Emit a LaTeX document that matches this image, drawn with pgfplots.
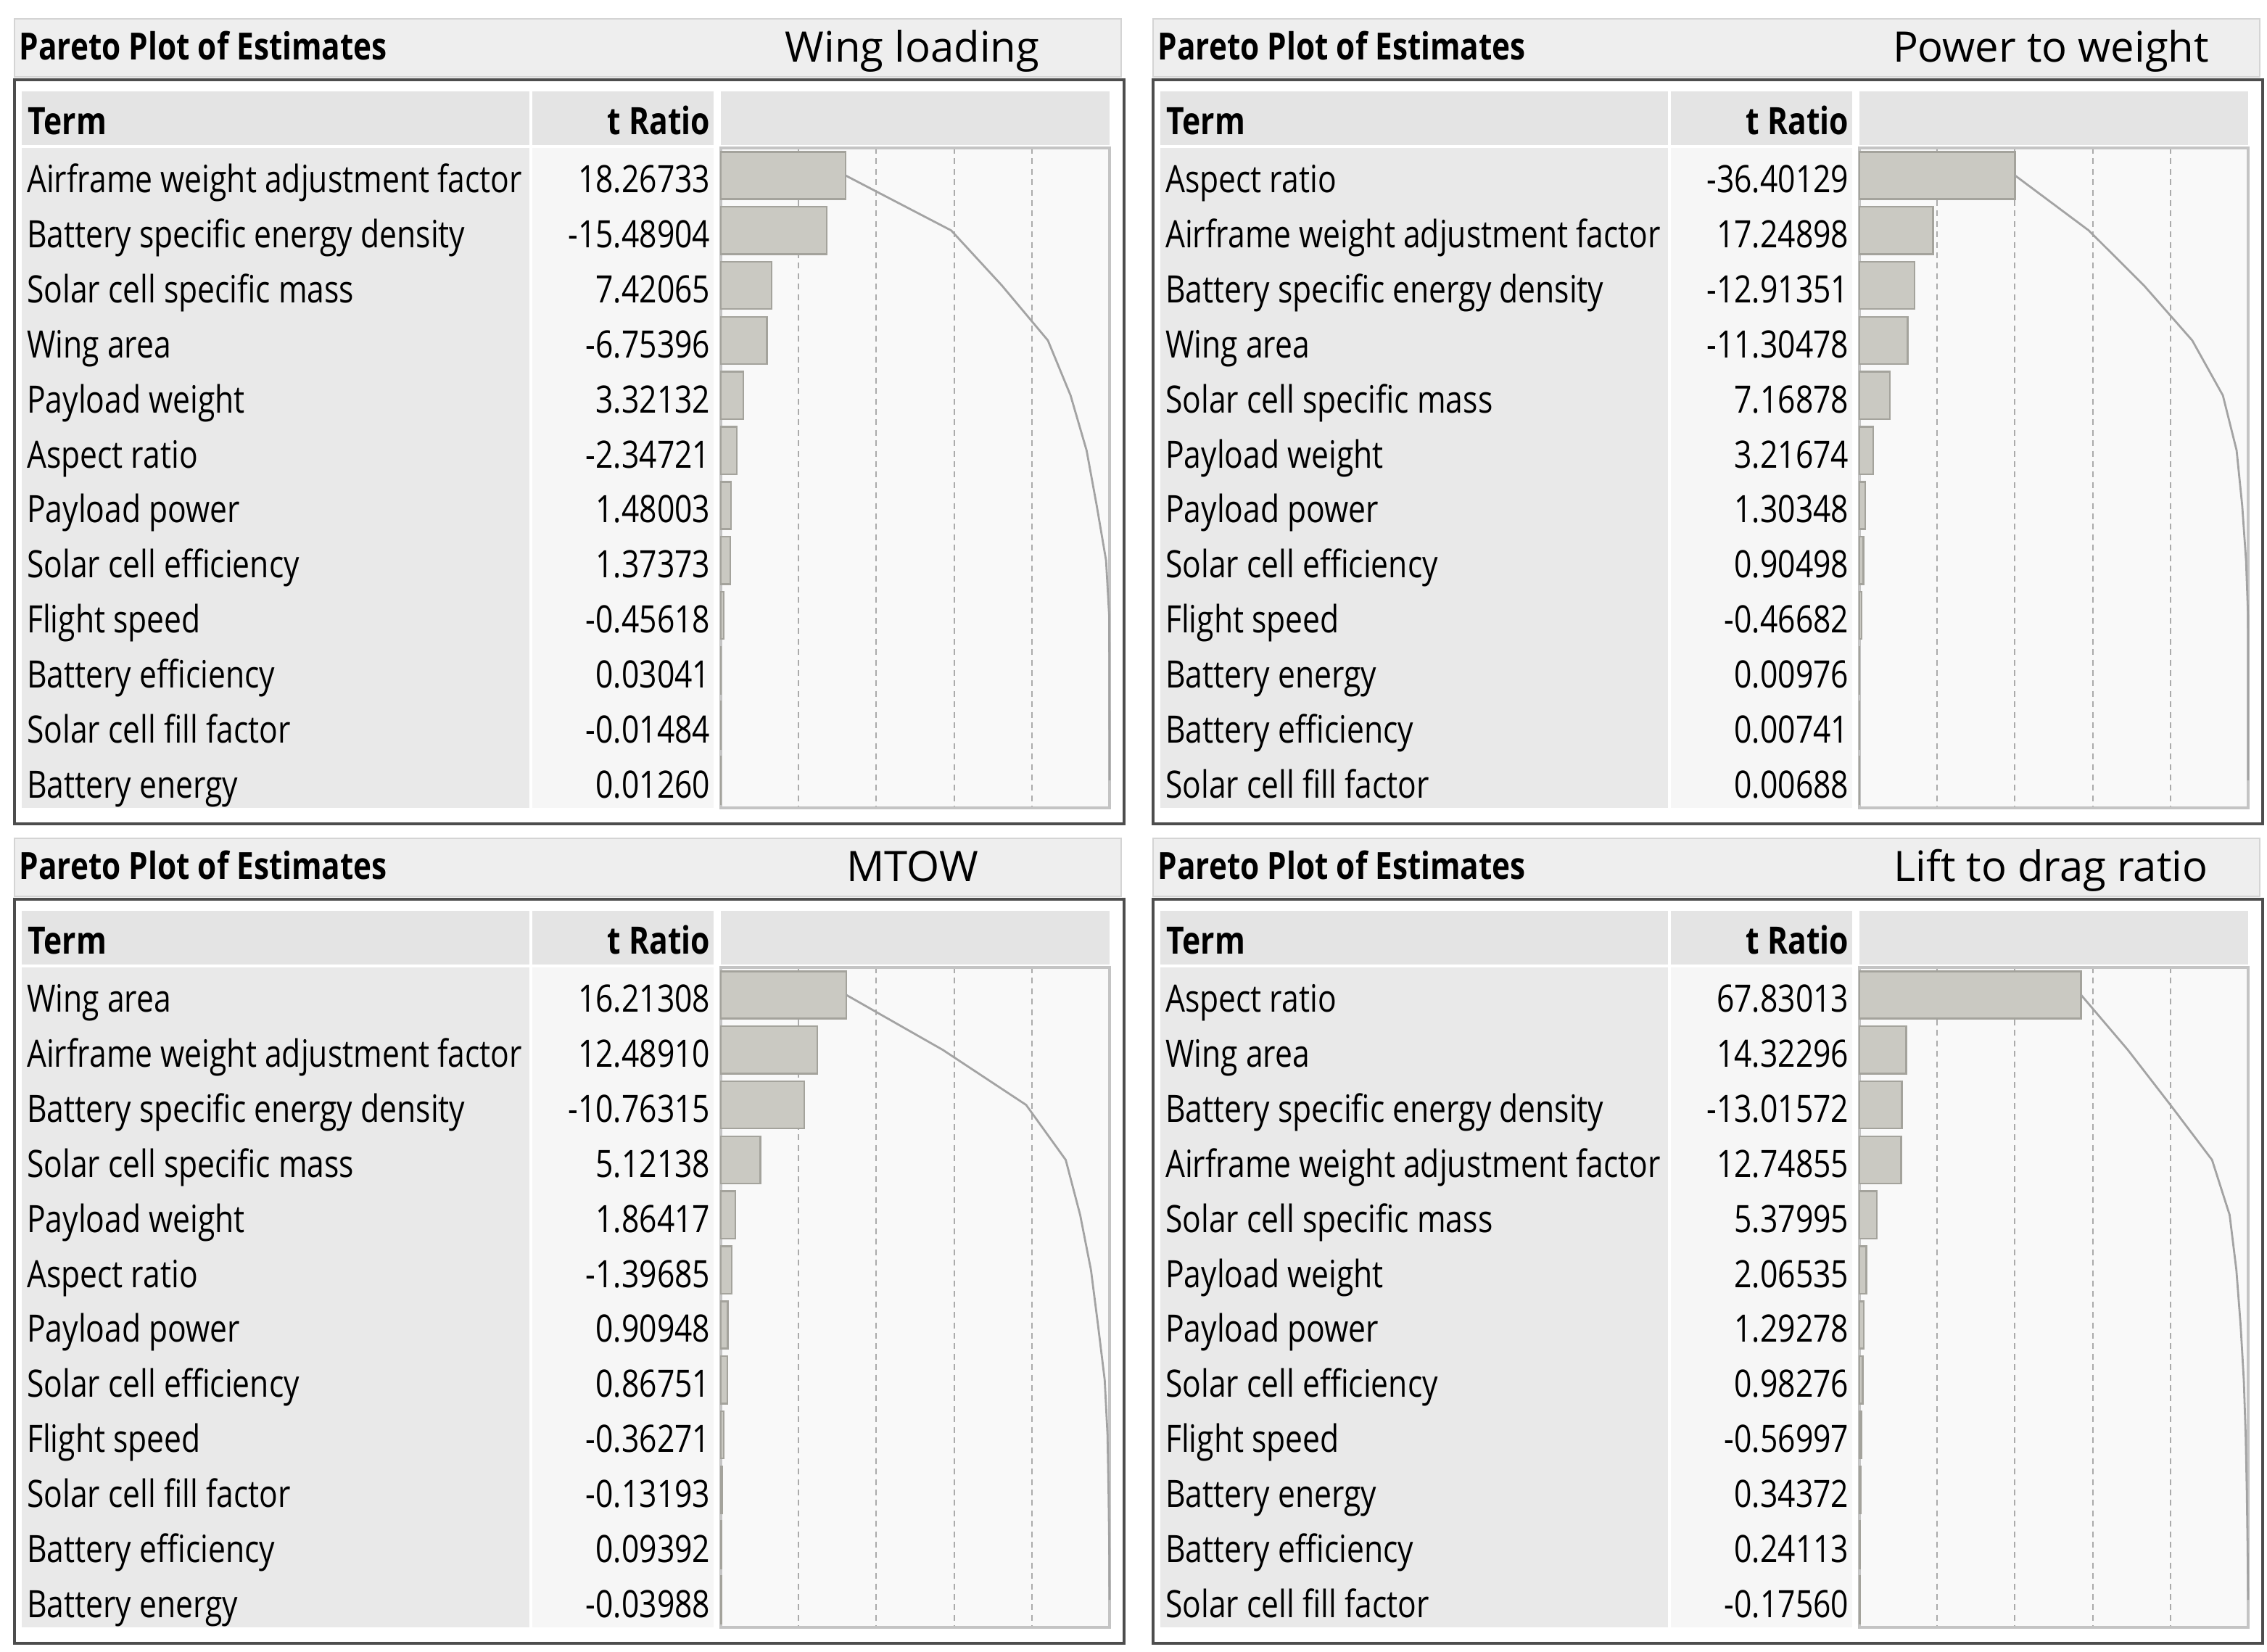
\documentclass[border=0pt]{standalone}
\usepackage{pgfplots}
\pgfplotsset{compat=1.18}
\usepackage{pgfplotstable}
\usepackage{fontspec}
\setmainfont{Open Sans}[FakeStretch=0.82]
\newfontfamily\plainfont{Open Sans}

\definecolor{titlebg}{HTML}{EEEEEE}
\definecolor{titleedge}{HTML}{D4D4D4}
\definecolor{boxclr}{HTML}{4D4D4D}
\definecolor{headbg}{HTML}{E4E4E4}
\definecolor{termbg}{HTML}{E9E9E9}
\definecolor{tbg}{HTML}{F6F6F6}
\definecolor{chartbg}{HTML}{F9F9F9}
\definecolor{chartedge}{HTML}{C4C4C4}
\definecolor{barfill}{HTML}{CAC9C2}
\definecolor{baredge}{HTML}{A4A39C}
\definecolor{lineclr}{HTML}{A3A3A3}
\definecolor{gridclr}{HTML}{ABABAB}

% one table per response, terms in Pareto order
\pgfplotstableread[col sep=comma]{
term,t
Airframe weight adjustment factor,18.26733
Battery specific energy density,-15.48904
Solar cell specific mass,7.42065
Wing area,-6.75396
Payload weight,3.32132
Aspect ratio,-2.34721
Payload power,1.48003
Solar cell efficiency,1.37373
Flight speed,-0.45618
Battery efficiency,0.03041
Solar cell fill factor,-0.01484
Battery energy,0.01260
}\wingtbl

\pgfplotstableread[col sep=comma]{
term,t
Aspect ratio,-36.40129
Airframe weight adjustment factor,17.24898
Battery specific energy density,-12.91351
Wing area,-11.30478
Solar cell specific mass,7.16878
Payload weight,3.21674
Payload power,1.30348
Solar cell efficiency,0.90498
Flight speed,-0.46682
Battery energy,0.00976
Battery efficiency,0.00741
Solar cell fill factor,0.00688
}\powtbl

\pgfplotstableread[col sep=comma]{
term,t
Wing area,16.21308
Airframe weight adjustment factor,12.48910
Battery specific energy density,-10.76315
Solar cell specific mass,5.12138
Payload weight,1.86417
Aspect ratio,-1.39685
Payload power,0.90948
Solar cell efficiency,0.86751
Flight speed,-0.36271
Solar cell fill factor,-0.13193
Battery efficiency,0.09392
Battery energy,-0.03988
}\mtowtbl

\pgfplotstableread[col sep=comma]{
term,t
Aspect ratio,67.83013
Wing area,14.32296
Battery specific energy density,-13.01572
Airframe weight adjustment factor,12.74855
Solar cell specific mass,5.37995
Payload weight,2.06535
Payload power,1.29278
Solar cell efficiency,0.98276
Flight speed,-0.56997
Battery energy,0.34372
Battery efficiency,0.24113
Solar cell fill factor,-0.17560
}\ldtbl

% cumulative |t| for the Pareto line
\newcommand{\addcum}[2]{%
  \pgfplotstablecreatecol[create col/expr accum={\pgfmathaccuma + abs(\thisrow{t})}{0}]{cum}{#1}%
  \pgfplotstablegetelem{11}{cum}\of{#1}\global\let#2\pgfplotsretval}
\addcum{\wingtbl}{\wingtot}
\addcum{\powtbl}{\powtot}
\addcum{\mtowtbl}{\mtowtot}
\addcum{\ldtbl}{\ldtot}

\newcommand{\rowfont}{\fontsize{13}{15}\selectfont}

% #1 table, #2 total, #3 response name, #4,#5 top left of the bar area
\newcommand{\paretopanel}[5]{%
\begin{scope}[shift={(#4,#5)}]
% title bar and frame
\filldraw[fill=titlebg, draw=titleedge, line width=0.6pt]
  (-243.5pt,44.5pt) rectangle (138pt,24.5pt);
\draw[boxclr, line width=1.2pt] (-243.5pt,23.5pt) rectangle (139pt,-233pt);
% header cells and column backgrounds
\fill[headbg] (-241pt,19.5pt) rectangle (-66pt,1pt);
\fill[headbg] (-65pt,19.5pt) rectangle (-2.5pt,1pt);
\fill[headbg] (0pt,19.5pt) rectangle (134pt,1pt);
\fill[termbg] (-241pt,0pt) rectangle (-66pt,-227.5pt);
\fill[tbg] (-65pt,0pt) rectangle (-2.5pt,-227.5pt);
\node[anchor=base west, inner sep=0pt, font=\fontsize{12.9}{15}\bfseries]
  at (-242pt,30.3pt) {Pareto Plot of Estimates};
\node[anchor=base, inner sep=0pt, font=\plainfont\fontsize{14.5}{17}\selectfont]
  at (66pt,29.6pt) {#3};
\node[anchor=base west, inner sep=0pt, font=\fontsize{13}{15}\bfseries]
  at (-239pt,4.7pt) {Term};
\node[anchor=base east, inner sep=0pt, font=\fontsize{13}{15}\bfseries]
  at (-3.5pt,4.7pt) {t Ratio};
\end{scope}
\begin{axis}[
  at={(#4,#5)}, anchor=north west,
  scale only axis, width=134pt, height=227.5pt,
  xmin=0, xmax=1, ymin=0.5, ymax=12.5, y dir=reverse,
  clip=false,
  xtick={0.2,0.4,0.6,0.8}, xticklabels={},
  xmajorgrids,
  major grid style={gridclr, dash pattern=on 2pt off 1.6pt, line width=0.5pt},
  ytick={1,...,12}, major tick length=0pt,
  yticklabel={\pgfplotstablegetelem{\ticknum}{term}\of{#1}\let\rowterm\pgfplotsretval
    \pgfplotstablegetelem{\ticknum}{t}\of{#1}%
    \makebox[174pt][l]{\rowterm}\makebox[61.5pt][r]{\pgfplotsretval}},
  yticklabel style={anchor=base east, inner sep=0pt, xshift=-3.5pt, yshift=-6pt, font=\rowfont},
  axis line style={draw=chartedge, line width=0.9pt},
  axis background/.style={fill=chartbg},
]
\addplot[xbar, bar width=0.86, fill=barfill, draw=baredge, line width=0.6pt]
  table[x expr={abs(\thisrow{t})/#2}, y expr=\coordindex+1] {#1};
\addplot[lineclr, line width=0.7pt, mark=none]
  table[x expr={\thisrow{cum}/#2}, y expr=\coordindex+1] {#1};
\end{axis}}

\begin{document}
\begin{tikzpicture}
\fill[white, use as bounding box] (0,0) rectangle (781.5pt,-569.5pt);
\paretopanel{\wingtbl}{\wingtot}{Wing loading}{248.5pt}{-51pt}
\paretopanel{\powtbl}{\powtot}{Power to weight}{641pt}{-51pt}
\paretopanel{\mtowtbl}{\mtowtot}{MTOW}{248.5pt}{-333.5pt}
\paretopanel{\ldtbl}{\ldtot}{Lift to drag ratio}{641pt}{-333.5pt}
\end{tikzpicture}
\end{document}
